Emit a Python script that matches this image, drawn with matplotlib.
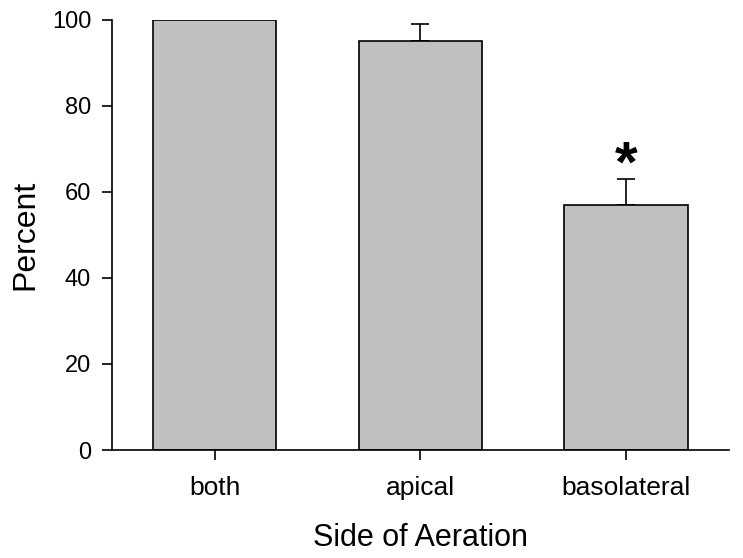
import matplotlib.pyplot as plt
import numpy as np

plt.rcParams['font.family'] = ['Liberation Sans', 'DejaVu Sans']

categories = ["both", "apical", "basolateral"]
values = [100, 95, 57]
errors = [0, 4, 6]
star_y = 66

fig = plt.figure(figsize=(7.43, 5.58), dpi=100)
ax = fig.add_axes([0.1507, 0.1935, 0.830, 0.771])

x = np.arange(len(categories))
ax.bar(x, values, width=0.6, color="#c0c0c0", edgecolor="black", linewidth=1.2, zorder=2)
err_lo = [0] * len(errors)
ax.errorbar(x[1:], values[1:], yerr=[err_lo[1:], errors[1:]], fmt="none",
            ecolor="black", elinewidth=1.2, capsize=6.5, capthick=1.2, zorder=1)
ax.text(x[2], star_y, "*", ha="center", va="center", fontsize=42, fontweight="bold")

ax.set_xlim(-0.5, 2.5)
ax.set_ylim(0, 100)
ax.set_xticks(x)
ax.set_xticklabels(categories)
ax.set_yticks([0, 20, 40, 60, 80, 100])
ax.tick_params(length=7, width=1.2)
ax.tick_params(axis="x", labelsize=19, pad=12)
ax.tick_params(axis="y", labelsize=17, pad=8)
ax.spines["top"].set_visible(False)
ax.spines["right"].set_visible(False)
ax.spines["left"].set_linewidth(1.2)
ax.spines["bottom"].set_linewidth(1.2)
ax.set_xlabel("Side of Aeration", fontsize=22, labelpad=16)
ax.set_ylabel("Percent", fontsize=23, labelpad=8)

fig.savefig("out.png", dpi=100)
